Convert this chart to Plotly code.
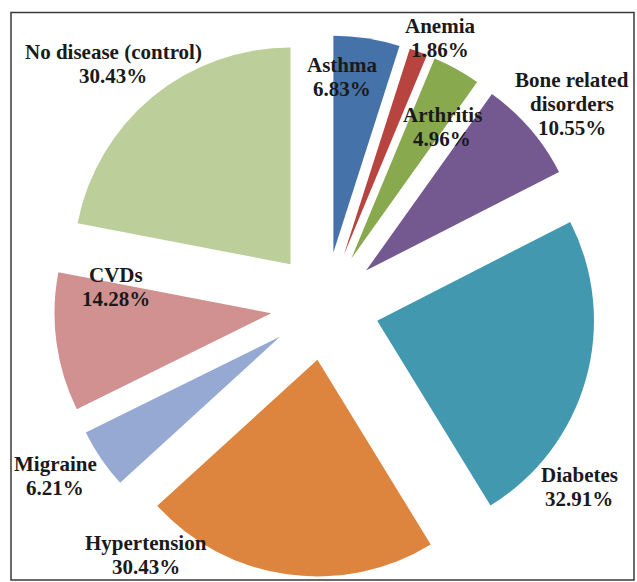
import plotly.graph_objects as go

# Disease categories, clockwise from 12 o'clock
categories = [
    "Asthma", "Anemia", "Arthritis", "Bone related disorders", "Diabetes",
    "Hypertension", "Migraine", "CVDs", "No disease (control)",
]
percentages = [6.83, 1.86, 4.96, 10.55, 32.91, 30.43, 6.21, 14.28, 30.43]
colors = [
    "#4572A9", "#B8443F", "#89A94F", "#735990", "#4299AF",
    "#DD843F", "#95A9D3", "#D19191", "#BCCE99",
]

W, H = 637, 582


def px(x):
    return x / W


def py(y):
    return 1 - y / H


fig = go.Figure(
    go.Pie(
        labels=categories,
        values=percentages,
        sort=False,
        direction="clockwise",
        rotation=0,
        pull=0.25,
        marker=dict(colors=colors, line=dict(width=0)),
        textinfo="none",
        hoverinfo="label+value",
        showlegend=False,
        domain=dict(x=[px(54), px(596)], y=[py(577), py(35)]),
    )
)

# Label anchor per category: centre x and centre y of the first text line
label_pos = {
    "Asthma": (342, 65),
    "Anemia": (440, 26),
    "Arthritis": (442, 115),
    "Bone related disorders": (572, 80),
    "Diabetes": (579, 475),
    "Hypertension": (146, 543),
    "Migraine": (55, 464),
    "CVDs": (116, 275),
    "No disease (control)": (113, 52),
}
line_gap = 24

font = dict(family="Liberation Serif, Times New Roman, serif", size=21, color="#1a1a1a")
annotations = []
for name, val in zip(categories, percentages):
    x0, y0 = label_pos[name]
    lines = name.replace("related ", "related\n").split("\n") + [f"{val:.2f}%"]
    for i, line in enumerate(lines):
        annotations.append(
            dict(
                text=f"<b>{line}</b>",
                x=px(x0), y=py(y0 + i * line_gap),
                xref="paper", yref="paper",
                xanchor="center", yanchor="middle",
                showarrow=False, font=font,
            )
        )

fig.update_layout(
    width=W, height=H,
    margin=dict(l=0, r=0, t=0, b=0),
    paper_bgcolor="white",
    plot_bgcolor="white",
    annotations=annotations,
    shapes=[
        dict(
            type="rect", xref="paper", yref="paper",
            x0=px(11), x1=px(634), y0=py(580), y1=py(12.5),
            line=dict(color="#3a3a3a", width=1.5),
            fillcolor="rgba(0,0,0,0)",
        )
    ],
)

fig.write_html("out.html")
